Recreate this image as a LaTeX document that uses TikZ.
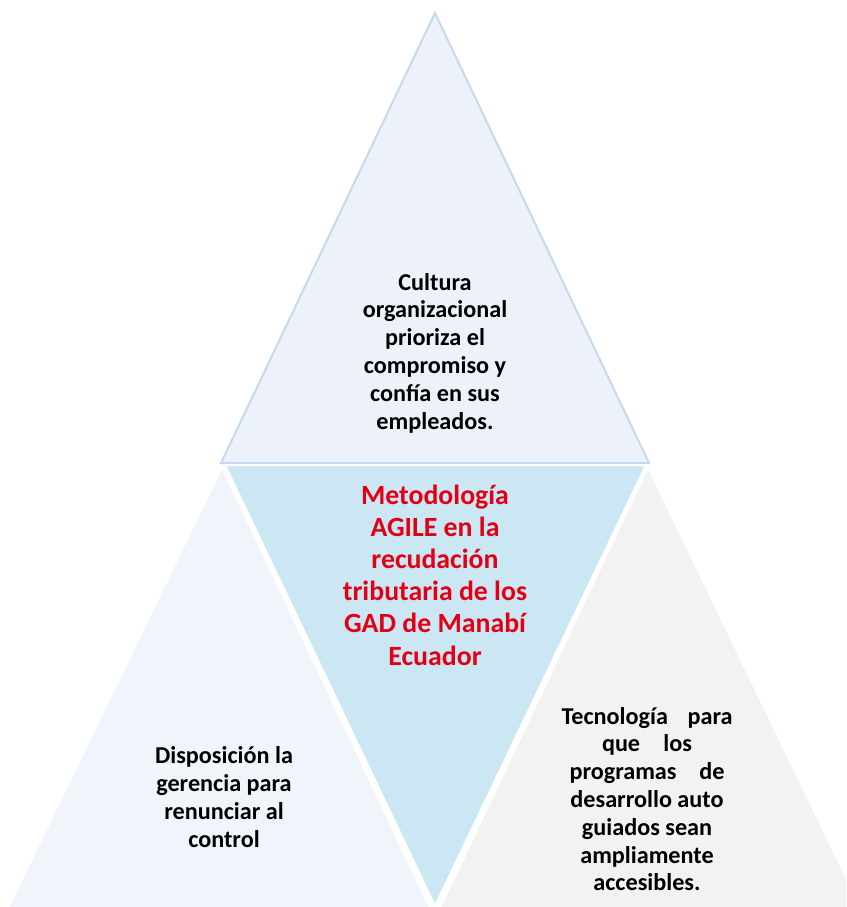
\documentclass[tikz,border=0pt]{standalone}
\usepackage{fontspec}
\setmainfont{Carlito}
\definecolor{topfill}{RGB}{237,241,249}
\definecolor{topedge}{RGB}{196,218,241}
\definecolor{midfill}{RGB}{203,231,244}
\definecolor{leftfill}{RGB}{240,245,251}
\definecolor{rightfill}{RGB}{242,242,242}
\definecolor{titlered}{RGB}{228,0,20}
\begin{document}
\begin{tikzpicture}[x=1pt,y=-1pt,
  tri/.style={draw=white,line width=2pt,line join=miter},
  bodytext/.style={align=center,font=\fontsize{24.2}{27.8}\selectfont\bfseries,text=black,inner sep=0pt},
  titletext/.style={align=center,font=\fontsize{27.8}{32.2}\selectfont\bfseries,text=titlered,inner sep=0pt}]
\useasboundingbox (0,0) rectangle (846,907);
\begin{scope}
\clip (0,0) rectangle (846,907);
% top triangle
\path[tri,fill=topfill,draw=topedge] (435,13) -- (649,463) -- (221,463) -- cycle;
% center inverted triangle
\path[tri,fill=midfill] (225,465) -- (646,465) -- (435,906) -- cycle;
% left triangle
\path[tri,fill=leftfill] (222,467) -- (431,910) -- (7,910) -- cycle;
% right triangle
\path[tri,fill=rightfill] (648,467) -- (862,910) -- (439,910) -- cycle;
\end{scope}
\node[bodytext] (top) at (435,353) {Cultura\\organizacional\\prioriza el\\compromiso y\\confía en sus\\empleados.};
\node[titletext] (mid) at (435,575) {Metodología\\AGILE en la\\recudación\\tributaria de los\\GAD de Manabí\\Ecuador};
\node[bodytext] (left) at (224,797) {Disposición la\\gerencia para\\renunciar al\\control};
\node[bodytext] (right) at (647,799) {\makebox[171pt][s]{Tecnología para}\\\makebox[90pt][s]{que los}\\\makebox[155pt][s]{programas de}\\desarrollo auto\\guiados sean\\ampliamente\\accesibles.};
\end{tikzpicture}
\end{document}
